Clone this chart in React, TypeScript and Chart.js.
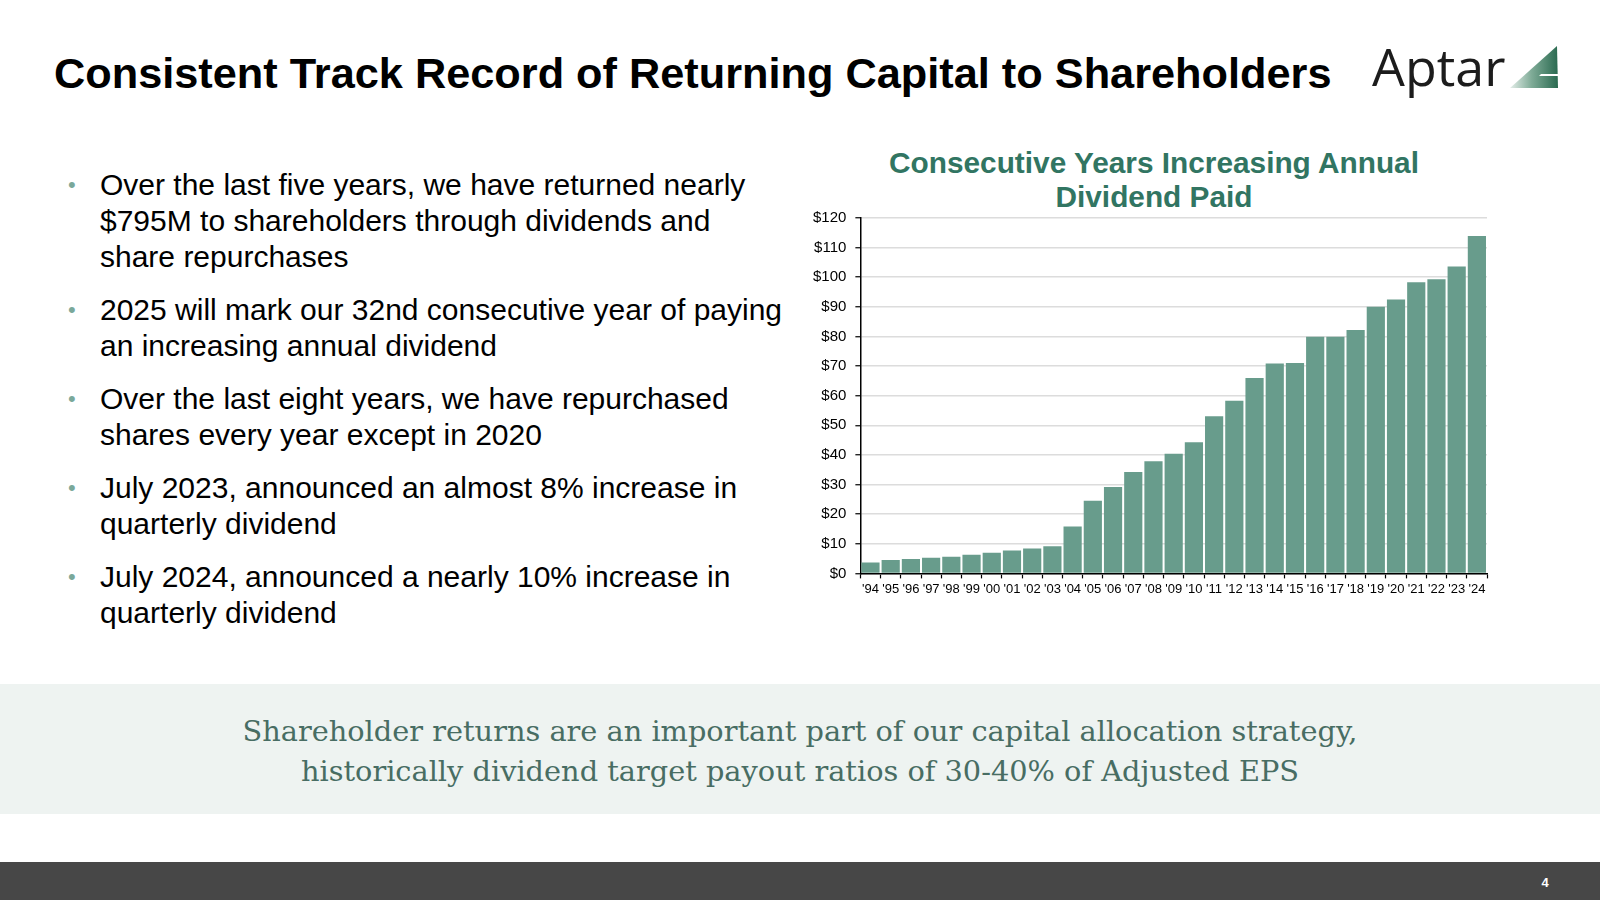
import React, { useEffect, useRef } from "react";
import { Chart, registerables } from "chart.js";

Chart.register(...registerables);

const years = ["'94", "'95", "'96", "'97", "'98", "'99", "'00", "'01", "'02", "'03", "'04", "'05", "'06", "'07", "'08", "'09", "'10", "'11", "'12", "'13", "'14", "'15", "'16", "'17", "'18", "'19", "'20", "'21", "'22", "'23", "'24"];
const dividendsPaid = [3.7, 4.5, 4.9, 5.3, 5.6, 6.3, 7.0, 7.7, 8.4, 9.2, 15.8, 24.5, 29.2, 34.2, 37.9, 40.4, 44.3, 53.1, 58.3, 66.0, 70.9, 71.0, 79.9, 79.9, 82.2, 90.0, 92.5, 98.3, 99.3, 103.6, 113.9];
const yTickMin = 0;
const yTickMax = 120;
const yTickStep = 10;
const chartTitle = ["Consecutive Years Increasing Annual", "Dividend Paid"];

const bullets: string[][] = [
  ["Over the last five years, we have returned nearly", "$795M to shareholders through dividends and", "share repurchases"],
  ["2025 will mark our 32nd consecutive year of paying", "an increasing annual dividend"],
  ["Over the last eight years, we have repurchased", "shares every year except in 2020"],
  ["July 2023, announced an almost 8% increase in", "quarterly dividend"],
  ["July 2024, announced a nearly 10% increase in", "quarterly dividend"],
];

const bandLines = [
  "Shareholder returns are an important part of our capital allocation strategy,",
  "historically dividend target payout ratios of 30-40% of Adjusted EPS",
];

const SANS = "'Liberation Sans', Arial, Helvetica, sans-serif";

function DividendChart() {
  const ref = useRef<HTMLCanvasElement | null>(null);
  useEffect(() => {
    if (!ref.current) return;
    const chart = new Chart(ref.current, {
      type: "bar",
      data: {
        labels: years,
        datasets: [
          {
            data: dividendsPaid,
            backgroundColor: "#689c8c",
            borderWidth: 0,
            categoryPercentage: 1,
            barPercentage: 0.9,
          },
        ],
      },
      options: {
        animation: false,
        responsive: false,
        devicePixelRatio: 1,
        layout: { padding: { left: 14, right: 10, top: 13, bottom: 3 } },
        plugins: {
          legend: { display: false },
          tooltip: { enabled: false },
          title: { display: false },
        },
        scales: {
          x: {
            border: { display: true, color: "#000", width: 1.5 },
            grid: { drawOnChartArea: false, drawTicks: true, tickColor: "#000", tickLength: 5, tickWidth: 1.2 },
            ticks: {
              color: "#000",
              font: { family: SANS, size: 13 },
              autoSkip: false,
              maxRotation: 0,
              minRotation: 0,
              padding: 3,
            },
          },
          y: {
            min: yTickMin,
            max: yTickMax,
            border: { display: true, color: "#000", width: 1.5 },
            grid: { color: "#dcdcdc", lineWidth: 1.5, tickColor: "#000", tickLength: 5, tickWidth: 1.2 },
            ticks: {
              stepSize: yTickStep,
              color: "#000",
              font: { family: SANS, size: 15 },
              padding: 9,
              callback: (v: any) => "$" + v,
            },
          },
        },
      },
    });
    return () => chart.destroy();
  }, []);
  return (
    <canvas
      ref={ref}
      width={707}
      height={403}
      style={{ position: "absolute", left: 790, top: 200, width: 707, height: 403 }}
    />
  );
}

export default function App() {
  return (
    <div
      style={{
        position: "fixed",
        left: 0,
        top: 0,
        width: 1600,
        height: 900,
        background: "#fff",
        overflow: "hidden",
        fontFamily: SANS,
      }}
    >
      <div
        style={{
          position: "absolute",
          left: 54,
          top: 48,
          height: 50,
          lineHeight: "50px",
          fontSize: 43.3,
          fontWeight: "bold",
          color: "#000",
          whiteSpace: "nowrap",
        }}
      >
        Consistent Track Record of Returning Capital to Shareholders
      </div>

      <div
        style={{
          position: "absolute",
          left: 1372,
          top: 40,
          fontFamily: "'Open Sans', sans-serif",
          fontSize: 52,
          lineHeight: "52px",
          color: "#1c1c1c",
          whiteSpace: "nowrap",
        }}
      >
        Aptar
      </div>
      <svg style={{ position: "absolute", left: 1507, top: 44 }} width={54} height={48} viewBox="0 0 54 48">
        <defs>
          <linearGradient id="aptg" x1="0" y1="0" x2="1" y2="0">
            <stop offset="0" stopColor="#e4eee9" />
            <stop offset="0.45" stopColor="#7fab97" />
            <stop offset="1" stopColor="#2a6a50" />
          </linearGradient>
        </defs>
        <polygon points="50,2 3,44 51,44" fill="url(#aptg)" />
        <polygon points="34,30 52,30 52,32 32,32" fill="#fff" />
      </svg>

      <div style={{ position: "absolute", left: 68, top: 167, width: 720 }}>
        {bullets.map((lines, i) => (
          <div key={i} style={{ position: "relative", marginBottom: 17, paddingLeft: 32 }}>
            <span
              style={{
                position: "absolute",
                left: 0,
                top: 0,
                lineHeight: "36px",
                fontSize: 22,
                color: "#7aa89a",
              }}
            >
              •
            </span>
            {lines.map((l, j) => (
              <div key={j} style={{ fontSize: 30, lineHeight: "36px", color: "#000", whiteSpace: "nowrap" }}>
                {l}
              </div>
            ))}
          </div>
        ))}
      </div>

      <div
        style={{
          position: "absolute",
          left: 854,
          width: 600,
          top: 146,
          textAlign: "center",
          fontSize: 29.8,
          lineHeight: "34px",
          fontWeight: "bold",
          color: "#317562",
        }}
      >
        {chartTitle.map((t, i) => (
          <div key={i} style={{ whiteSpace: "nowrap" }}>
            {t}
          </div>
        ))}
      </div>

      <DividendChart />

      <div
        style={{
          position: "absolute",
          left: 0,
          top: 684,
          width: 1600,
          height: 130,
          background: "#eef3f1",
        }}
      >
        <div style={{ position: "absolute", left: 0, width: 1600, top: 26.5, textAlign: "center" }}>
          {bandLines.map((l, i) => (
            <div
              key={i}
              style={{
                fontFamily: "'DejaVu Serif', Georgia, serif",
                fontSize: 28.8,
                lineHeight: "40px",
                color: "#486d63",
                whiteSpace: "nowrap",
              }}
            >
              {l}
            </div>
          ))}
        </div>
      </div>

      <div
        style={{
          position: "absolute",
          left: 0,
          top: 862,
          width: 1600,
          height: 38,
          background: "#474747",
        }}
      >
        <div
          style={{
            position: "absolute",
            left: 1535,
            width: 20,
            top: 2,
            height: 38,
            lineHeight: "38px",
            textAlign: "center",
            color: "#fff",
            fontWeight: "bold",
            fontSize: 13,
          }}
        >
          4
        </div>
      </div>
    </div>
  );
}
